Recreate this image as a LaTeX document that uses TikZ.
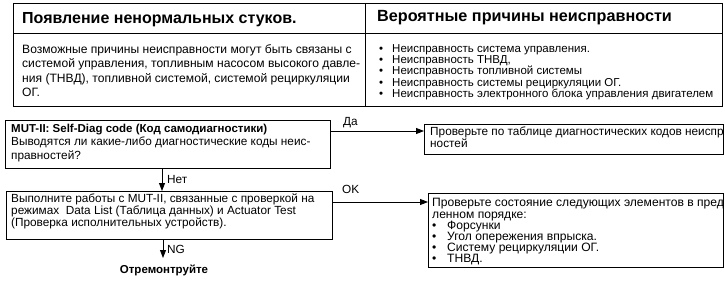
\documentclass[tikz,border=0pt]{standalone}
\usepackage{fontspec}
\setmainfont{Liberation Sans}
\usetikzlibrary{arrows.meta}
\tikzset{
  frame/.style={draw, line width=0.9pt, rectangle, inner sep=0pt, anchor=north west},
  txt/.style={anchor=base west, inner sep=0pt, font=\fontsize{11.8}{13}\selectfont},
  ftxt/.style={anchor=base west, inner sep=0pt, font=\fontsize{12.1}{13}\selectfont},
  ltxt/.style={anchor=base west, inner sep=0pt, font=\fontsize{12.1}{14}\selectfont},
  rtxt/.style={anchor=base west, inner sep=0pt, font=\fontsize{11.5}{13}\selectfont},
  btxt/.style={anchor=base west, inner sep=0pt, font=\bfseries\fontsize{11.5}{13}\selectfont},
  head/.style={anchor=base west, inner sep=0pt, font=\bfseries\fontsize{16}{18}\selectfont},
  arr/.style={-{Triangle[length=8pt,width=6pt]}, line width=0.9pt},
}
\newcommand{\blt}[1]{\makebox[15pt][l]{•}#1}
\newcommand{\bltr}[1]{\makebox[13pt][l]{•}#1}
\begin{document}
\begin{tikzpicture}[x=1pt,y=-1pt]
\useasboundingbox (0,0) rectangle (725,286);
% top table
\node[frame, minimum width=709pt, minimum height=103pt] (tbl) at (13,3) {};
\draw[line width=0.9pt] (tbl.west |- 0,33) -- (tbl.east |- 0,33);
\draw[line width=0.9pt] (365,0 |- tbl.north) -- (365,0 |- tbl.south);
\node[head] (h1) at (22,23.5) {Появление ненормальных стуков.};
\node[head, font=\bfseries\fontsize{16.2}{18}\selectfont] (h2) at (377,21.5) {Вероятные причины неисправности};
\foreach \t [count=\i] in {Возможные причины неисправности могут быть связаны с,
  {системой управления, топливным насосом высокого давле-},
  {ния (ТНВД), топливной системой, системой рециркуляции},
  ОГ.} {
  \node[ltxt] (lc\i) at (22,{39.2+14.3*\i}) {\t};
}
\foreach \t [count=\i] in {Неисправность система управления.,
  {Неисправность ТНВД,},
  Неисправность топливной системы,
  Неисправность системы рециркуляции ОГ.,
  Неисправность электронного блока управления двигателем} {
  \node[rtxt] (rc\i) at (379,{41.25+11.25*\i}) {\bltr{\t}};
}
% flow boxes
\node[frame, minimum width=325pt, minimum height=48pt] (b1) at (5,120) {};
\node[frame, minimum width=299pt, minimum height=30pt] (b2) at (424,124) {};
\node[frame, minimum width=326pt, minimum height=48pt] (b3) at (6,191) {};
\node[frame, minimum width=295pt, minimum height=74pt] (b4) at (428,193) {};
% box 1 text
\node[btxt] (t11) at (11,132) {MUT-II: Self-Diag code (Код самодиагностики)};
\node[txt] (t12) at (11,145.5) {Выводятся ли какие-либо диагностические коды неис-};
\node[txt] (t13) at (11,159) {правностей?};
% box 2 text (cut at the right edge as in the original)
\begin{scope}
\clip (b2.north west) rectangle (b2.south east);
\node[txt] (t21) at (430,135.5) {Проверьте по таблице диагностических кодов неисправ-};
\node[txt] (t22) at (430,147.5) {ностей};
\end{scope}
% box 3 text
\node[txt] (t31) at (11,202.5) {Выполните работы с MUT-II, связанные с проверкой на};
\node[txt] (t32) at (11,214.5) {режимах\ \ Data List (Таблица данных) и Actuator Test};
\node[txt] (t33) at (11,226.5) {(Проверка исполнительных устройств).};
% box 4 text (cut at the right edge as in the original)
\begin{scope}
\clip (b4.north west) rectangle (b4.south east);
\node[ftxt] (t41) at (432,206.5) {Проверьте состояние следующих элементов в представ-};
\node[ftxt] (t42) at (432,218) {ленном порядке:};
\end{scope}
\foreach \t [count=\i] in {Форсунки, Угол опережения впрыска., Систему рециркуляции ОГ., ТНВД.} {
  \node[ftxt] (bt\i) at (432,{218+11*\i}) {\blt{\t}};
}
% arrows
\coordinate (pDa) at (b1.east |- 0,131);
\draw[arr] (pDa) -- (pDa -| b2.west);
\coordinate (pNet) at (162,0);
\draw[arr] (pNet |- b1.south) -- (pNet |- b3.north);
\coordinate (pOK) at (b3.east |- 0,202);
\draw[arr] (pOK) -- (pOK -| b4.west);
\coordinate (pNG) at (163,0);
\coordinate (endNG) at (163,258);
\draw[arr] (pNG |- b3.south) -- (endNG);
% labels
\node[txt] (lDa) at (343,125) {Да};
\node[txt] (lNet) at (167,183) {Нет};
\node[txt] (lOK) at (342,193) {OK};
\node[txt] (lNG) at (167,253) {NG};
\node[btxt, anchor=base] (rep) at (164,273) {Отремонтруйте};
\end{tikzpicture}
\end{document}
